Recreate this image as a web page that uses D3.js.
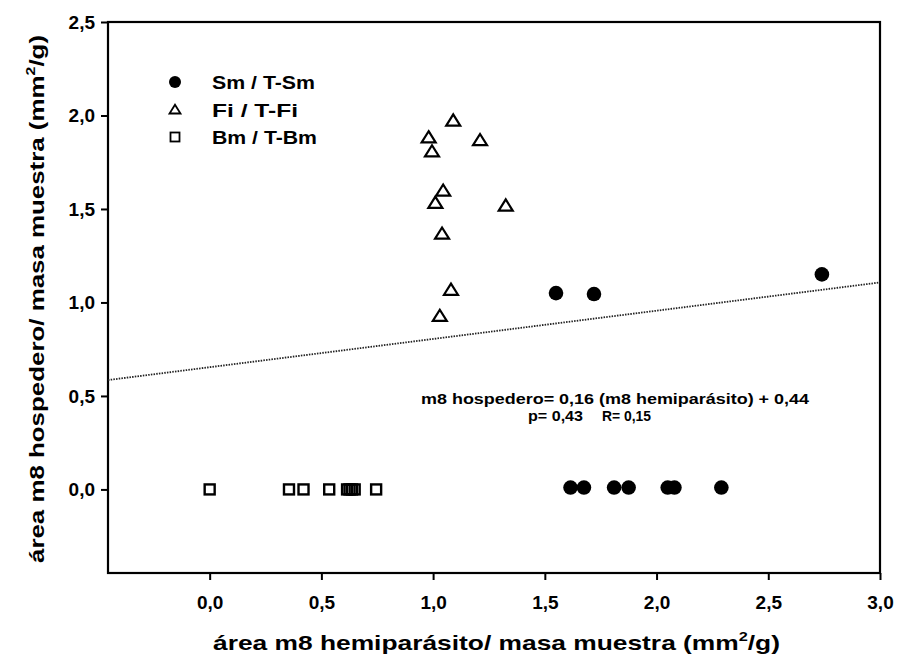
<!DOCTYPE html>
<html>
<head>
<meta charset="utf-8">
<script src="https://cdn.jsdelivr.net/npm/d3@7"></script>
<style>
  html, body { margin: 0; padding: 0; background: #fff; }
  svg { display: block; }
  text { font-family: "Liberation Sans", Arial, sans-serif; fill: #000; }
</style>
</head>
<body>
<svg id="chart" width="899" height="660"></svg>
<script>
// Sm / T-Sm (filled circles)
const smX = [1.55, 1.72, 2.74, 1.615, 1.675, 1.81, 1.875, 2.05, 2.08, 2.29];
const smY = [1.05, 1.045, 1.15, 0.01, 0.01, 0.01, 0.01, 0.01, 0.01, 0.01];
// Fi / T-Fi (open triangles)
const fiX = [1.09, 0.98, 1.21, 0.995, 1.045, 1.01, 1.325, 1.04, 1.08, 1.03];
const fiY = [1.97, 1.88, 1.865, 1.805, 1.595, 1.53, 1.515, 1.365, 1.065, 0.925];
// Bm / T-Bm (open squares)
const bmX = [0.0, 0.355, 0.42, 0.535, 0.615, 0.626, 0.637, 0.649, 0.745];
const bmY = [0, 0, 0, 0, 0, 0, 0, 0, 0];
// fitted line, end points
const fitX = [-0.455, 3.0];
const fitY = [0.585, 1.107];

const xTicks = [0, 0.5, 1.0, 1.5, 2.0, 2.5, 3.0];
const yTicks = [0, 0.5, 1.0, 1.5, 2.0, 2.5];
const legendLabels = ["Sm / T-Sm", "Fi / T-Fi", "Bm / T-Bm"];
const eqLine1 = "m8 hospedero= 0,16 (m8 hemiparásito) + 0,44";
const eqStats = ["p= 0,43", "R= 0,15"];

const svg = d3.select("#chart");
const L = 108, R = 880, T = 22, B = 573;

const x = d3.scaleLinear().domain([-0.455, 3.0]).range([L, R]);
const y = d3.scaleLinear().domain([-0.447, 2.5]).range([B, T]);
const fmt = d => d3.format(".1f")(d).replace(".", ",");

// axes
const xAxis = svg.append("g").attr("transform", `translate(0,${B})`)
  .call(d3.axisBottom(x).tickValues(xTicks).tickFormat(fmt).tickSize(7).tickPadding(16));
const yAxis = svg.append("g").attr("transform", `translate(${L},0)`)
  .call(d3.axisLeft(y).tickValues(yTicks).tickFormat(fmt).tickSize(7).tickPadding(6));
[xAxis, yAxis].forEach(g => {
  g.select(".domain").remove();
  g.selectAll(".tick line").attr("stroke", "#000").attr("stroke-width", 2);
  g.selectAll(".tick text").attr("font-size", 19).attr("font-weight", "bold")
    .attr("font-family", "'Liberation Sans', Arial, sans-serif");
});

// frame
svg.append("rect").attr("x", L).attr("y", T).attr("width", R - L).attr("height", B - T)
  .attr("fill", "none").attr("stroke", "#000").attr("stroke-width", 2.2);

// regression line
svg.append("line")
  .attr("x1", x(fitX[0])).attr("y1", y(fitY[0]))
  .attr("x2", x(fitX[1])).attr("y2", y(fitY[1]))
  .attr("stroke", "#222").attr("stroke-width", 1.8).attr("stroke-dasharray", "1.5,1.2");

// marker paths
const tri = s => { const h = s * 0.8; return `M0,${-h*0.6} L${s/2},${h*0.4} L${-s/2},${h*0.4} Z`; };

const plot = svg.append("g");
plot.selectAll(".bm").data(bmX.map((v, i) => [v, bmY[i]])).join("rect")
  .attr("x", d => x(d[0]) - 5).attr("y", d => y(d[1]) - 5)
  .attr("width", 10).attr("height", 10)
  .attr("fill", "none").attr("stroke", "#000").attr("stroke-width", 2.4);
plot.selectAll(".fi").data(fiX.map((v, i) => [v, fiY[i]])).join("path")
  .attr("transform", d => `translate(${x(d[0])},${y(d[1])})`)
  .attr("d", tri(14)).attr("fill", "none").attr("stroke", "#000")
  .attr("stroke-width", 2.2).attr("stroke-linejoin", "miter");
plot.selectAll(".sm").data(smX.map((v, i) => [v, smY[i]])).join("circle")
  .attr("cx", d => x(d[0])).attr("cy", d => y(d[1])).attr("r", 7.3).attr("fill", "#000");

// legend
const leg = svg.append("g");
const legY = [82, 110, 137];
leg.append("circle").attr("cx", 175).attr("cy", legY[0]).attr("r", 6).attr("fill", "#000");
leg.append("path").attr("transform", `translate(175,${legY[1]})`).attr("d", tri(11))
  .attr("fill", "none").attr("stroke", "#000").attr("stroke-width", 1.8);
leg.append("rect").attr("x", 170.5).attr("y", legY[2] - 4.5).attr("width", 9).attr("height", 9)
  .attr("fill", "none").attr("stroke", "#000").attr("stroke-width", 1.8);
const legW = [103, 86, 105];
leg.selectAll(".lt").data(legendLabels).join("text")
  .attr("x", 212).attr("y", (d, i) => legY[i]).attr("dy", "0.36em")
  .attr("font-size", 19).attr("font-weight", "bold")
  .attr("textLength", (d, i) => legW[i]).attr("lengthAdjust", "spacingAndGlyphs")
  .text(d => d);

// equation
svg.append("text").attr("x", 421).attr("y", 404)
  .attr("font-size", 15.5).attr("font-weight", "bold")
  .attr("textLength", 388).attr("lengthAdjust", "spacingAndGlyphs").text(eqLine1);
svg.append("text").attr("x", 528).attr("y", 421).attr("font-size", 15)
  .attr("font-weight", "bold").attr("textLength", 55).attr("lengthAdjust", "spacingAndGlyphs")
  .text(eqStats[0]);
svg.append("text").attr("x", 602).attr("y", 421).attr("font-size", 15)
  .attr("font-weight", "bold").attr("textLength", 49).attr("lengthAdjust", "spacingAndGlyphs")
  .text(eqStats[1]);

// axis titles
const xt = svg.append("text").attr("x", 213).attr("y", 650)
  .attr("font-size", 21).attr("font-weight", "bold")
  .attr("textLength", 567).attr("lengthAdjust", "spacingAndGlyphs");
xt.append("tspan").text("área m8 hemiparásito/ masa muestra (mm");
xt.append("tspan").attr("font-size", 13).attr("dy", -9).text("2");
xt.append("tspan").attr("dy", 9).text("/g)");

const yt = svg.append("text").attr("transform", "translate(44,563) rotate(-90)")
  .attr("font-size", 21).attr("font-weight", "bold")
  .attr("textLength", 528).attr("lengthAdjust", "spacingAndGlyphs");
yt.append("tspan").text("área m8 hospedero/ masa muestra (mm");
yt.append("tspan").attr("font-size", 13).attr("dy", -9).text("2");
yt.append("tspan").attr("dy", 9).text("/g)");
</script>
</body>
</html>
